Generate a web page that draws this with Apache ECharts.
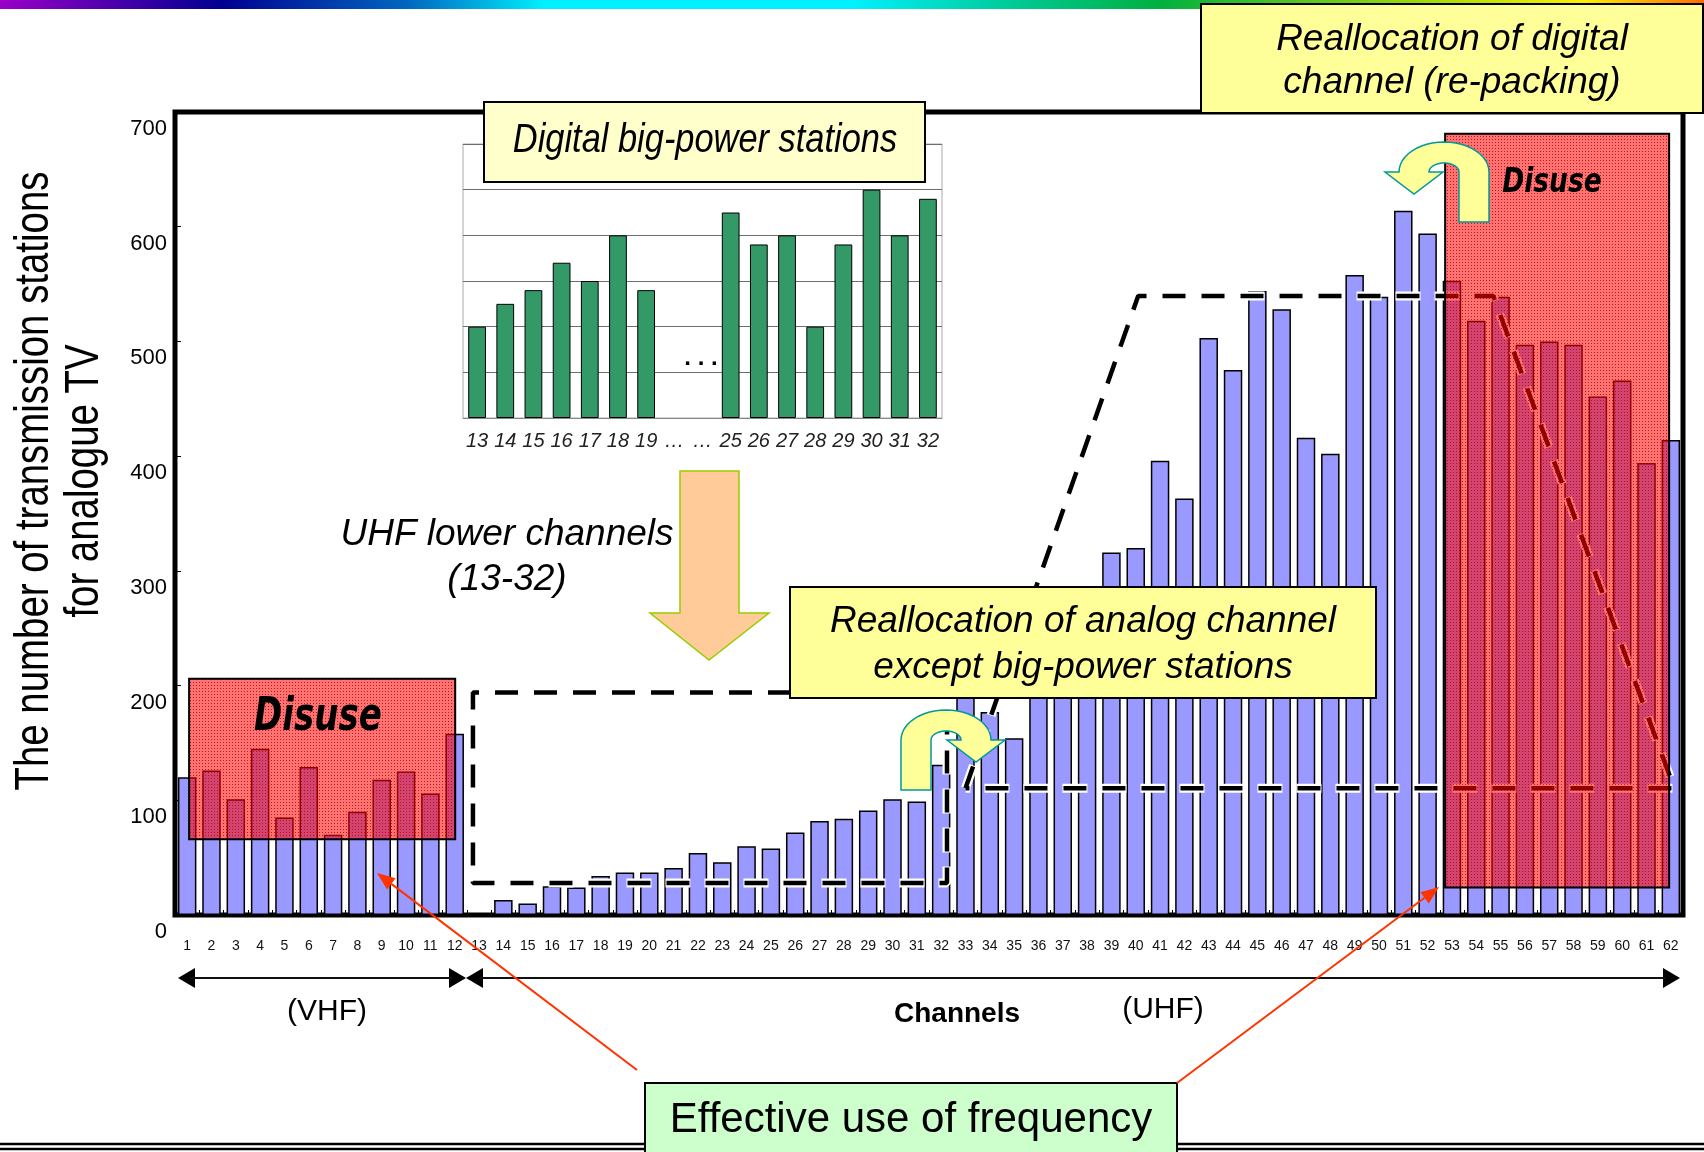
<!DOCTYPE html>
<html lang="en">
<head>
<meta charset="UTF-8">
<script src="https://cdn.jsdelivr.net/npm/echarts@6/dist/echarts.min.js"></script>
<style>
  html, body { margin: 0; padding: 0; background: #fff; }
  #chart { width: 1704px; height: 1152px; }
</style>
</head>
<body>
<div id="chart"></div>
<script>
// channel numbers and analogue station counts
var channels = ['1','2','3','4','5','6','7','8','9','10','11','12','13','14','15','16','17','18','19','20',
  '21','22','23','24','25','26','27','28','29','30','31','32','33','34','35','36','37','38','39','40',
  '41','42','43','44','45','46','47','48','49','50','51','52','53','54','55','56','57','58','59','60','61','62'];
var stations = [120, 126, 101, 145, 85, 129, 70, 90, 118, 125, 106, 158,
  null, 13, 10, 25, 24, 34, 37, 37, 41, 54, 46, 60, 58, 72, 82, 84, 91, 101, 99, 131,
  205, 177, 154, 240, 260, 280, 316, 320, 396, 363, 503, 475, 544, 528, 416, 402,
  558, 539, 614, 594, 553, 518, 539, 497, 500, 497, 452, 466, 394, 414];

// inset: digital big-power stations, channels 13-32
var insetChannels = ['13','14','15','16','17','18','19','\u2026','\u2026','25','26','27','28','29','30','31','32'];
var insetHeights = [2.0, 2.5, 2.8, 3.4, 3.0, 4.0, 2.8, null, null, 4.5, 3.8, 4.0, 2.0, 3.8, 5.0, 4.0, 4.8];

// dashed outlines, [channel, stations]
var lowerBand = [[32.24, 194], [12.75, 194], [12.75, 28], [32.24, 28], [32.24, 194]];
var upperBand = [[33.0, 110.5], [40.1, 539.6], [54.7, 539.6], [62.14, 110.5], [33.0, 110.5]];

// disused ranges: [channel from, channel to, stations low, stations high]
var disuseAreas = [[1.08, 12.02, 66, 206], [52.72, 61.93, 24, 681]];

var FONT = '"Liberation Sans", Arial, sans-serif';
var NARROW = '"Liberation Sans Narrow", "Liberation Sans", Arial, sans-serif';
var VERD = '"DejaVu Sans", Verdana, sans-serif';

// dotted red fill
var pc = document.createElement('canvas');
pc.width = 3; pc.height = 3;
var pctx = pc.getContext('2d');
pctx.fillStyle = 'rgba(255,0,0,0.55)';
pctx.fillRect(0, 0, 3, 3);
pctx.fillStyle = 'rgba(200,0,0,0.85)';
pctx.fillRect(1, 1, 1, 1);

function txt(s, x, y, size, opt) {
  opt = opt || {};
  return {
    type: 'text', x: x, y: y, z: opt.z || 60,
    rotation: opt.rotation || 0, scaleX: opt.scaleX || 1,
    style: {
      text: s, fill: opt.color || '#000',
      fontSize: size, fontFamily: opt.family || FONT,
      fontStyle: opt.italic ? 'italic' : 'normal',
      fontWeight: opt.bold ? 'bold' : 'normal',
      align: 'center', verticalAlign: 'middle',
      textAlign: 'center', textVerticalAlign: 'middle',
      lineHeight: opt.lineHeight || size * 1.2
    }
  };
}

function box(x, y, w, h, fill, z) {
  return { type: 'rect', z: z || 50, shape: { x: x, y: y, width: w, height: h },
    style: { fill: fill, stroke: '#000', lineWidth: 2 } };
}

function head(tx, ty, fx, fy, len, half) {
  var dx = tx - fx, dy = ty - fy, d = Math.sqrt(dx * dx + dy * dy);
  var ux = dx / d, uy = dy / d;
  var bx = tx - ux * len, by = ty - uy * len;
  return [[tx, ty], [bx - uy * half, by + ux * half], [bx + uy * half, by - ux * half]];
}

function redArrow(fx, fy, tx, ty) {
  var h = head(tx, ty, fx, fy, 18, 7);
  var bx = (h[1][0] + h[2][0]) / 2, by = (h[1][1] + h[2][1]) / 2;
  return [
    { type: 'line', z: 70, shape: { x1: fx, y1: fy, x2: bx, y2: by }, style: { stroke: '#ff3300', lineWidth: 2 } },
    { type: 'polygon', z: 70, shape: { points: h }, style: { fill: '#ff3300' } }
  ];
}

// U-turn arrow: shaft goes up, bends over and points down on the other side
function uturn(cx, cy, dir, bottom) {
  var pts = [], i, t, n = 24;
  var outer = 45, inner = 15, ry = 30, iry = 9;
  pts.push([cx - dir * outer, bottom]);
  for (i = 0; i <= n; i++) {
    t = Math.PI + Math.PI * i / n;
    pts.push([cx + dir * outer * Math.cos(t), cy + ry * Math.sin(t)]);
  }
  var hc = cx + dir * (outer + inner) / 2;
  pts.push([hc + dir * 29, cy]);
  pts.push([hc, cy + 22]);
  pts.push([hc - dir * 29, cy]);
  pts.push([cx + dir * inner, cy]);
  for (i = 0; i <= n; i++) {
    t = 2 * Math.PI - Math.PI * i / n;
    pts.push([cx + dir * inner * Math.cos(t), cy + iry * Math.sin(t)]);
  }
  pts.push([cx - dir * inner, bottom]);
  return { type: 'polygon', z: 65, shape: { points: pts },
    style: { fill: '#ffff99', stroke: '#009999', lineWidth: 1.5 } };
}

function blackHead(tx, ty, dir) {
  return { type: 'polygon', z: 40, shape: { points: [[tx, ty], [tx - dir * 17, ty - 10], [tx - dir * 17, ty + 10]] },
    style: { fill: '#000' } };
}

var graphics = [
  { type: 'rect', z: 1, shape: { x: 0, y: 0, width: 1704, height: 9 },
    style: { fill: new echarts.graphic.LinearGradient(0, 0, 1, 0, [
      { offset: 0, color: '#9a00c8' }, { offset: 0.13, color: '#000090' },
      { offset: 0.24, color: '#0068c0' }, { offset: 0.32, color: '#00f0ff' },
      { offset: 0.5, color: '#00f0ff' }, { offset: 0.6, color: '#00c890' },
      { offset: 0.68, color: '#00b040' }, { offset: 0.86, color: '#b8e000' },
      { offset: 0.93, color: '#ffee00' }, { offset: 1, color: '#ff6a00' }]) } },
  { type: 'line', z: 40, shape: { x1: 0, y1: 1144, x2: 1704, y2: 1144 }, style: { stroke: '#000', lineWidth: 2.5 } },
  { type: 'line', z: 40, shape: { x1: 0, y1: 1149, x2: 1704, y2: 1149 }, style: { stroke: '#000', lineWidth: 2.5 } },

  txt('The number of transmission stations\nfor analogue TV', 60, 481, 48,
    { rotation: Math.PI / 2, scaleX: 0.8, lineHeight: 50 }),

  txt('. . .', 701, 358, 24, { bold: true }),

  box(484, 102, 441, 80, '#ffffcc'),
  txt('Digital big-power stations', 705, 141, 40, { italic: true, scaleX: 0.86 }),

  { type: 'polygon', z: 50, shape: { points: [[680, 471], [739, 471], [739, 613], [769, 613], [709, 660], [650, 613], [680, 613]] },
    style: { fill: '#ffcc99', stroke: '#99cc00', lineWidth: 1.5 } },
  txt('UHF lower channels\n(13-32)', 507, 557, 37, { italic: true, lineHeight: 45 }),

  box(790, 587, 586, 111, '#ffff99'),
  txt('Reallocation of analog channel\nexcept big-power stations', 1083, 645, 37, { italic: true, lineHeight: 46 }),

  uturn(946, 740, 1, 790),
  uturn(1444, 172, -1, 222),

  box(1201, 4, 502, 109, '#ffff99'),
  txt('Reallocation of digital\nchannel (re-packing)', 1452, 61, 37, { italic: true, lineHeight: 43 }),

  txt('Disuse', 1552, 183, 34, { family: VERD, italic: true, bold: true, scaleX: 0.78 }),
  txt('Disuse', 318, 718, 46, { family: VERD, italic: true, bold: true, scaleX: 0.74 }),

  blackHead(178, 978, -1), blackHead(466, 978, 1), blackHead(466, 978, -1), blackHead(1680, 978, 1),
  { type: 'line', z: 40, shape: { x1: 190, y1: 978, x2: 452, y2: 978 }, style: { stroke: '#111', lineWidth: 2 } },
  { type: 'line', z: 40, shape: { x1: 480, y1: 978, x2: 1666, y2: 978 }, style: { stroke: '#111', lineWidth: 2 } },
  txt('(VHF)', 327, 1012, 30),
  txt('Channels', 957, 1014, 28, { bold: true }),
  txt('(UHF)', 1163, 1010, 30),

  box(645, 1083, 532, 90, '#ccffcc'),
  txt('Effective use of frequency', 911, 1120, 42)
].concat(redArrow(637, 1070, 377, 873), redArrow(1177, 1083, 1439, 887));

function dashed(data, color, width, dash, offset, z) {
  return { type: 'line', xAxisIndex: 1, yAxisIndex: 0, data: data, symbol: 'none', silent: true, z: z,
    lineStyle: { color: color, width: width, type: dash, dashOffset: offset, cap: 'butt' } };
}

var option = {
  animation: false,
  backgroundColor: '#fff',
  graphic: { elements: graphics },
  grid: [
    { left: 175, top: 112, right: 21, bottom: 237, show: true, borderColor: '#000', borderWidth: 5,
      backgroundColor: 'transparent', outerBoundsMode: 'none' },
    { left: 463, top: 144, width: 479, height: 274, show: true, borderColor: '#aaa', borderWidth: 1,
      backgroundColor: 'transparent', outerBoundsMode: 'none' }
  ],
  xAxis: [
    { type: 'category', gridIndex: 0, data: channels, boundaryGap: true,
      axisLine: { show: false },
      axisTick: { show: true, inside: true, length: 5, lineStyle: { color: '#000', width: 1 } },
      axisLabel: { interval: 0, margin: 24, fontSize: 14, color: '#111', fontFamily: NARROW } },
    { type: 'value', gridIndex: 0, min: 0.5, max: 62.5, show: false },
    { type: 'category', gridIndex: 1, data: insetChannels, boundaryGap: true,
      axisLine: { show: true, lineStyle: { color: '#888', width: 1 } },
      axisTick: { show: false },
      axisLabel: { interval: 0, margin: 13, fontSize: 20, fontStyle: 'italic', color: '#222', fontFamily: FONT } }
  ],
  yAxis: [
    { type: 'value', gridIndex: 0, min: 0, max: 700, interval: 100,
      axisLine: { show: false },
      axisTick: { show: true, inside: true, length: 6, lineStyle: { color: '#000' } },
      splitLine: { show: false },
      axisLabel: { margin: 8, fontSize: 22, color: '#000', fontFamily: FONT, verticalAlign: 'top', lineHeight: 34 } },
    { type: 'value', gridIndex: 1, min: 0, max: 6, interval: 1,
      axisLine: { show: false }, axisTick: { show: false }, axisLabel: { show: false },
      splitLine: { show: true, lineStyle: { color: '#6e6e6e', width: 1 } } }
  ],
  series: [
    { type: 'bar', xAxisIndex: 0, yAxisIndex: 0, data: stations, barWidth: '76%', z: 2,
      itemStyle: { color: '#9999ff', borderColor: '#000', borderWidth: 1.5 } },
    dashed(lowerBand, '#fff', 9, [25, 14], 1, 3),
    dashed(lowerBand, '#000', 4.5, [23, 16], 0, 4),
    dashed(upperBand, '#fff', 9, [25, 14], 1, 3),
    dashed(upperBand, '#000', 4.5, [23, 16], 0, 4),
    { type: 'custom', xAxisIndex: 1, yAxisIndex: 0, data: disuseAreas, z: 5, silent: true, clip: false,
      encode: { x: [0, 1], y: [2, 3] },
      renderItem: function (params, api) {
        var p0 = api.coord([api.value(0), api.value(3)]);
        var p1 = api.coord([api.value(1), api.value(2)]);
        return { type: 'rect', shape: { x: p0[0], y: p0[1], width: p1[0] - p0[0], height: p1[1] - p0[1] },
          style: { fill: { image: pc, repeat: 'repeat' }, stroke: '#000', lineWidth: 2 } };
      } },
    { type: 'bar', xAxisIndex: 2, yAxisIndex: 1, data: insetHeights, barWidth: '63%', z: 2,
      itemStyle: { color: '#339966', borderColor: '#000', borderWidth: 1 } }
  ]
};

var chart = echarts.init(document.getElementById('chart'));
chart.setOption(option);
</script>
</body>
</html>
